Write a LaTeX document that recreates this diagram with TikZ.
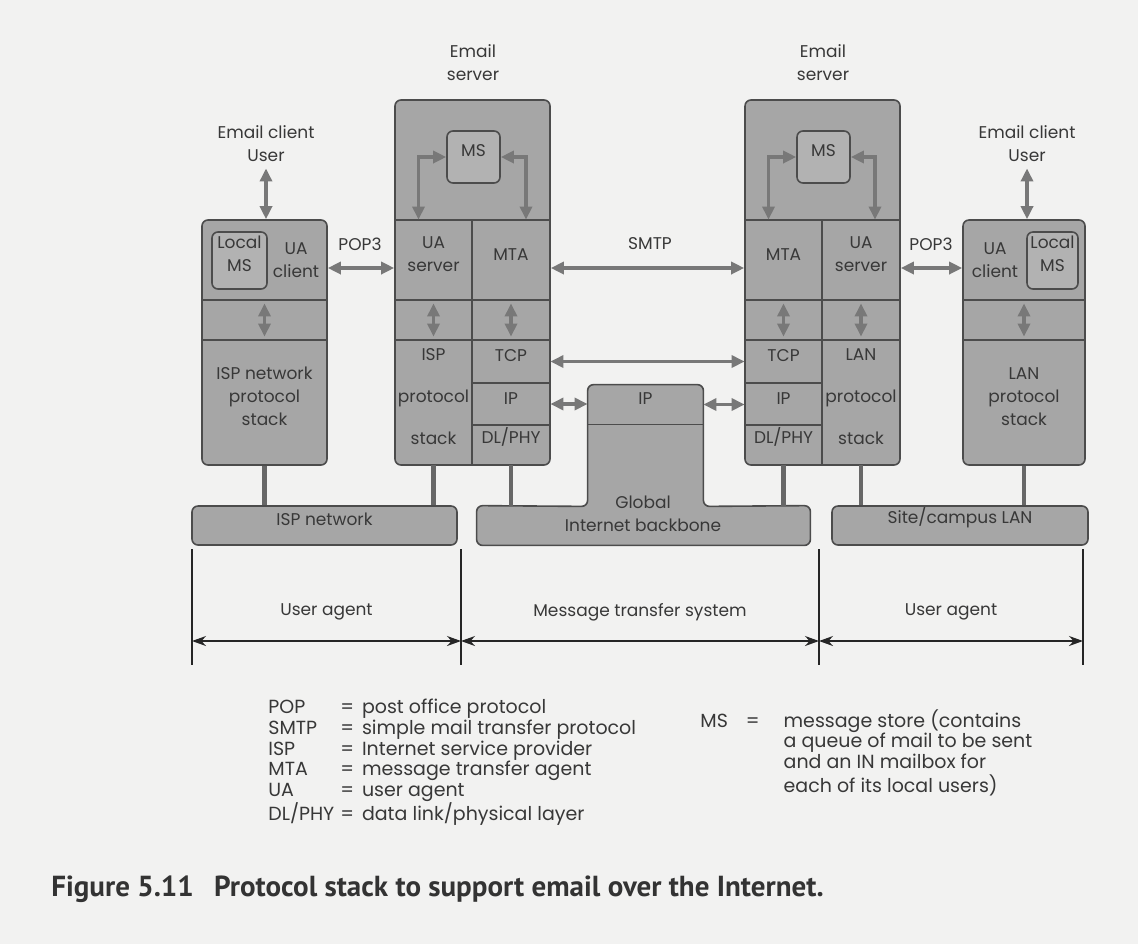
\documentclass[tikz,border=0pt]{standalone}
\usepackage{fontspec}
\setmainfont{Poppins}
\newfontfamily\captionfont{PT Sans}
\usetikzlibrary{arrows.meta, positioning, calc, fit}
\definecolor{PaperGray}{rgb}{0.95, 0.95, 0.945}
\definecolor{BoxGray}{rgb}{0.65, 0.65, 0.65}
\definecolor{StoreGray}{rgb}{0.70, 0.70, 0.70}
\definecolor{EdgeGray}{rgb}{0.30, 0.30, 0.30}
\definecolor{FlowGray}{rgb}{0.47, 0.47, 0.47}
\definecolor{InkGray}{rgb}{0.22, 0.22, 0.22}

\begin{document}
\begin{tikzpicture}[x=0.5pt, y=-0.5pt, >=Stealth,
    every node/.style={text=InkGray, font=\fontsize{8.5}{11.5}\selectfont, align=center, inner sep=0pt},
    stack/.style={draw=EdgeGray, fill=BoxGray, line width=0.8pt, rounded corners=3pt},
    store/.style={draw=EdgeGray, fill=StoreGray, line width=0.8pt, rounded corners=3pt},
    cut/.style={draw=EdgeGray, line width=0.6pt},
    link/.style={draw=EdgeGray!85, line width=2.2pt},
    flow/.style={draw=FlowGray, line width=1.9pt, {Triangle[length=6.5pt, width=6pt]}-{Triangle[length=6.5pt, width=6pt]}},
    span/.style={draw=black!85, line width=0.7pt, {Stealth[length=7pt, width=5pt]}-{Stealth[length=7pt, width=5pt]}},
    bartick/.style={draw=black!85, line width=0.6pt}]

  % Paper
  \fill[PaperGray] (0,0) rectangle (1138,944);
  \useasboundingbox (0,0) rectangle (1138,944);

  % Row of the application arrows
  \coordinate (row1) at (0,268);

  % Left email client
  \node (c1user) at (266,144) {Email client\\User};
  \node[stack, fit={(202,220) (327,465)}] (c1) {};
  \node[fit={(202,220) (327,300)}] (c1top) {};
  \node[fit={(202,340) (327,465)}] (c1stack) {ISP network\\protocol\\stack};
  \node[store, fit={(212,232) (267,289)}] (c1ms) {Local\\MS};
  \node (c1ua) at (296,260) {UA\\client};
  \draw[cut] (202,300) -- (327,300) (202,340) -- (327,340);
  \draw[flow, shorten <=3pt] (c1user.south) -- (c1user.south |- c1.north);
  \draw[flow, shorten <=1.5pt, shorten >=1.5pt] (c1top.south) -- (c1stack.north);

  % Email server on the ISP side
  \node (s1name) at (473,63) {Email\\server};
  \node[stack, fit={(395,100) (550,465)}] (s1) {};
  \node[store, fit={(447,131) (500,183)}] (s1ms) {MS};
  \draw[cut] (395,220) -- (550,220) (472,220) -- (472,465)
             (395,300) -- (550,300) (395,340) -- (550,340)
             (472,383) -- (550,383) (472,425) -- (550,425);
  \node[fit={(395,220) (472,300)}] (s1ua) {UA\\server};
  \node[fit={(472,220) (550,300)}] (s1mta) {MTA};
  \node[fit={(395,340) (472,465)}] (s1isp) {ISP\\[9.5pt]protocol\\[9.5pt]stack};
  \node[fit={(472,340) (550,383)}] (s1tcp) {TCP};
  \node[fit={(472,383) (550,425)}] (s1ip) {IP};
  \node[fit={(472,425) (550,465)}] (s1dl) {DL/PHY};
  \draw[flow] (s1ms.west) -| ([xshift=-7.5pt]s1ua.north);
  \draw[flow] (s1ms.east) -| ([xshift=7.5pt]s1mta.north);
  \draw[flow, shorten <=1.5pt, shorten >=1.5pt] (s1ua.south) -- (s1isp.north);
  \draw[flow, shorten <=1.5pt, shorten >=1.5pt] (s1mta.south) -- (s1tcp.north);

  % Email server on the LAN side
  \node (s2name) at (823,63) {Email\\server};
  \node[stack, fit={(745,100) (900,465)}] (s2) {};
  \node[store, fit={(797,131) (850,183)}] (s2ms) {MS};
  \draw[cut] (745,220) -- (900,220) (822,220) -- (822,465)
             (745,300) -- (900,300) (745,340) -- (900,340)
             (745,383) -- (822,383) (745,425) -- (822,425);
  \node[fit={(745,220) (822,300)}] (s2mta) {MTA};
  \node[fit={(822,220) (900,300)}] (s2ua) {UA\\server};
  \node[fit={(745,340) (822,383)}] (s2tcp) {TCP};
  \node[fit={(745,383) (822,425)}] (s2ip) {IP};
  \node[fit={(745,425) (822,465)}] (s2dl) {DL/PHY};
  \node[fit={(822,340) (900,465)}] (s2lan) {LAN\\[9.5pt]protocol\\[9.5pt]stack};
  \draw[flow] (s2ms.west) -| ([xshift=-7.5pt]s2mta.north);
  \draw[flow] (s2ms.east) -| ([xshift=7pt]s2ua.north);
  \draw[flow, shorten <=1.5pt, shorten >=1.5pt] (s2mta.south) -- (s2tcp.north);
  \draw[flow, shorten <=1.5pt, shorten >=1.5pt] (s2ua.south) -- (s2lan.north);

  % Right email client
  \node (c2user) at (1027,144) {Email client\\User};
  \node[stack, fit={(963,220) (1085,465)}] (c2) {};
  \node[fit={(963,220) (1085,300)}] (c2top) {};
  \node[fit={(963,340) (1085,465)}] (c2stack) {LAN\\protocol\\stack};
  \node[store, fit={(1027,232) (1078,289)}] (c2ms) {Local\\MS};
  \node (c2ua) at (995,260) {UA\\client};
  \draw[cut] (963,300) -- (1085,300) (963,340) -- (1085,340);
  \draw[flow, shorten <=3pt] (c2user.south) -- (c2user.south |- c2.north);
  \draw[flow, shorten <=1.5pt, shorten >=1.5pt] (c2top.south) -- (c2stack.north);

  % Networks
  \node[stack, fit={(192,506) (457,545)}] (isp) {ISP network};
  \node[stack, fit={(832,506) (1088,545)}] (lan) {Site/campus LAN};
  \node[fit={(477,506) (810,545)}] (gbar) {};
  \node[fit={(588,385) (703,506)}] (gtower) {};
  \draw[stack] (gbar.north west) -- (gtower.south west) -- (gtower.north west)
     -- (gtower.north east) -- (gtower.south east) -- (gbar.north east)
     -- (gbar.south east) -- (gbar.south west) -- cycle;
  \node[fit={(588,385) (703,424)}] (gip) {IP};
  \draw[cut] (gip.south west) -- (gip.south east);
  \node (gname) at (643,514) {Global\\Internet backbone};

  % Attachments
  \draw[link] (c1.south) -- (c1.south |- isp.north);
  \draw[link] (s1isp.south) -- (s1isp.south |- isp.north);
  \draw[link] (s1dl.south) -- (s1dl.south |- gbar.north);
  \draw[link] (s2dl.south) -- (s2dl.south |- gbar.north);
  \draw[link] (s2lan.south) -- (s2lan.south |- lan.north);
  \draw[link] (c2.south) -- (c2.south |- lan.north);

  % Protocol links
  \draw[flow] (c1.east |- row1) -- (s1.west |- row1);
  \node (pop3a) at (360,244) {POP3};
  \draw[flow] (s1.east |- row1) -- (s2.west |- row1);
  \node (smtp) at (650,244) {SMTP};
  \draw[flow] (s2.east |- row1) -- (c2.west |- row1);
  \node (pop3b) at (931,244) {POP3};
  \draw[flow] (s1tcp.east) -- (s1tcp.east -| s2tcp.west);
  \draw[flow] (s1ip.east) -- (s1ip.east -| gip.west);
  \draw[flow] (gip.east) -- (gip.east -| s2ip.west);

  % Scope of each part
  \foreach \n/\x in {1/192, 2/461, 3/819, 4/1083}{
    \coordinate (t\n) at (\x,641);
    \draw[bartick] (\x,549) -- (\x,665);
  }
  \draw[span] (t1) -- (t2);
  \draw[span] (t2) -- (t3);
  \draw[span] (t3) -- (t4);
  \node (ua1) at ($(t1)!0.5!(t2)+(0,-29)$) {User agent};
  \node (mts) at ($(t2)!0.5!(t3)+(0,-29)$) {Message transfer system};
  \node (ua2) at ($(t3)!0.5!(t4)+(0,-29)$) {User agent};

  % Key
  \node[anchor=north west, font=\fontsize{9.5}{10.25}\selectfont] (keyl) at (268,699) {%
    \begin{tabular}{@{}l@{\hspace{3pt}}l@{\hspace{4pt}}l@{}}
      POP & = & post office protocol\\
      SMTP & = & simple mail transfer protocol\\
      ISP & = & Internet service provider\\
      MTA & = & message transfer agent\\
      UA & = & user agent\\
      DL/PHY & = & data link/physical layer
    \end{tabular}};
  \node[anchor=north west, font=\fontsize{9.5}{10.25}\selectfont] (keyr) at (700,709) {%
    \begin{tabular}{@{}l@{\hspace{9pt}}l@{\hspace{12pt}}l@{}}
      MS & = & message store (contains\\
         &   & a queue of mail to be sent\\
         &   & and an IN mailbox for\\
         &   & each of its local users)
    \end{tabular}};

  % Caption
  \node[anchor=west, text=black!80] (cap) at (51,889) {\captionfont\bfseries\fontsize{14.5}{17}\selectfont Figure 5.11\hspace{0.7em}Protocol stack to support email over the Internet.};
\end{tikzpicture}
\end{document}
